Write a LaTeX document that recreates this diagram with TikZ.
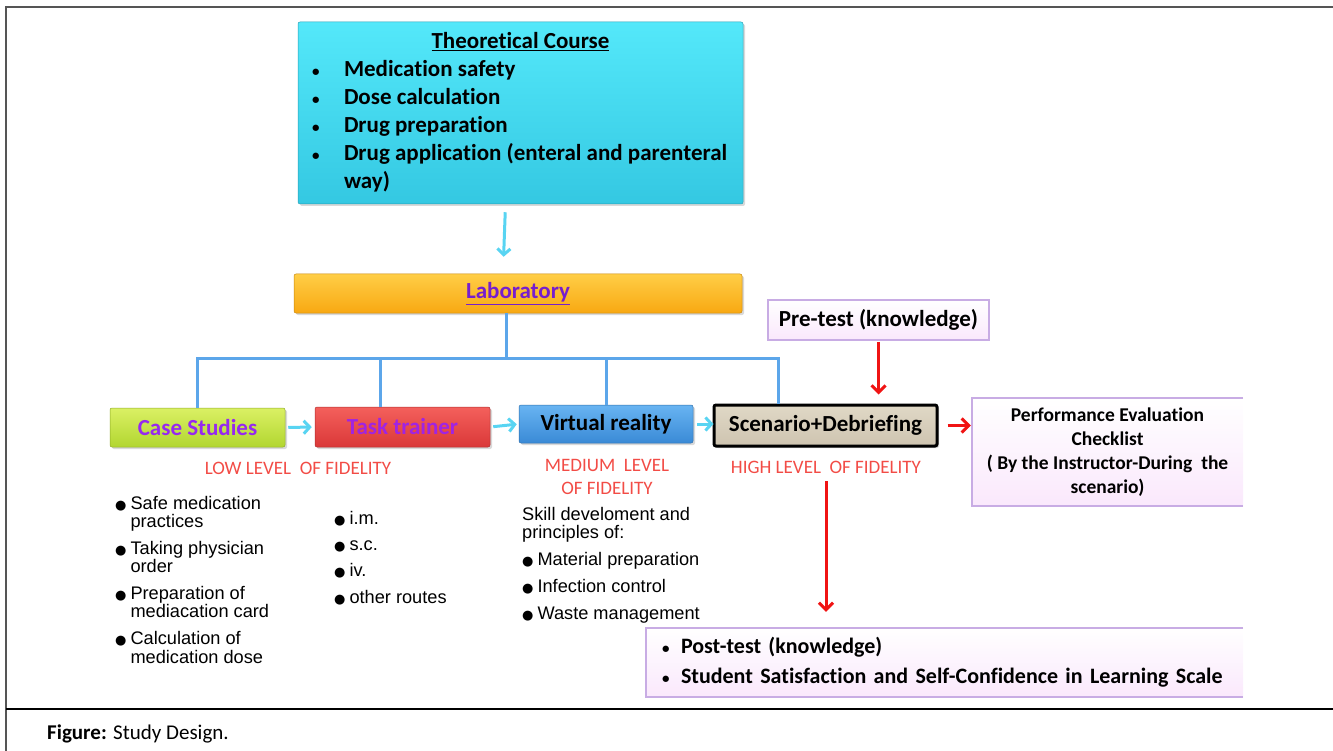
\documentclass[tikz,border=0pt]{standalone}
\usepackage{fontspec}
\setmainfont{Carlito}[Ligatures=NoCommon]
\newfontfamily\arialfont{Liberation Sans}
\newfontfamily\symfont{DejaVu Sans}
\usetikzlibrary{arrows.meta,shadows}

\definecolor{theotop}{RGB}{84,232,250}
\definecolor{theobot}{RGB}{52,200,226}
\definecolor{labtop}{RGB}{255,206,70}
\definecolor{labbot}{RGB}{248,168,18}
\definecolor{casetop}{RGB}{218,240,100}
\definecolor{casebot}{RGB}{178,214,48}
\definecolor{tasktop}{RGB}{244,96,92}
\definecolor{taskbot}{RGB}{218,56,56}
\definecolor{vrtop}{RGB}{104,180,242}
\definecolor{vrbot}{RGB}{58,138,214}
\definecolor{scentop}{RGB}{224,216,198}
\definecolor{scenmid}{RGB}{248,245,236}
\definecolor{scenbot}{RGB}{206,196,176}
\definecolor{lavline}{RGB}{200,172,228}
\definecolor{lavfill}{RGB}{250,232,252}
\definecolor{treeblue}{RGB}{92,166,234}
\definecolor{arrowcyan}{RGB}{88,212,242}
\definecolor{arrowred}{RGB}{240,20,20}
\definecolor{fidred}{RGB}{242,76,70}
\definecolor{labpurple}{RGB}{118,30,206}
\definecolor{casepurple}{RGB}{150,40,240}
\definecolor{taskpurple}{RGB}{160,36,226}
\definecolor{framegray}{RGB}{85,85,85}

\newcommand{\bul}{{\symfont\fontsize{13}{13}\selectfont ●}}
\newcommand{\dotbul}{{\fontsize{15}{15}\selectfont\textbullet}}

\begin{document}
\begin{tikzpicture}[x=1pt,y=-1pt,
  basebox/.style={inner sep=0pt, font=\bfseries\fontsize{23}{26}\selectfont,
    drop shadow={shadow xshift=2pt,shadow yshift=-2pt,opacity=0.3}},
  stagebox/.style={basebox, draw=#1!80!black, line width=0.5pt, rounded corners=2pt},
  evalbox/.style={inner sep=0pt, top color=white, bottom color=lavfill},
  evalline/.style={draw=lavline, line width=1.5pt},
  treeline/.style={draw=treeblue, line width=3pt},
  flowarrow/.style={draw=arrowcyan, line width=3pt, -{Straight Barb[length=6pt,width=13pt]}},
  evalarrow/.style={draw=arrowred, line width=3pt, -{Straight Barb[length=7pt,width=14pt]}},
  fidelity/.style={text=fidred, font=\fontsize{19}{23}\selectfont, align=center, inner sep=0pt},
  listtext/.style={font=\arialfont\fontsize{18.2}{18}\selectfont, inner sep=0pt, anchor=base west}]

\useasboundingbox (0,0) rectangle (1333,751);

% frame and caption
\draw[framegray, line width=2.5pt] (1333,7) -- (6,7) -- (6,751);
\draw[black, line width=2.5pt] (6,709) -- (1333,709);
\node[anchor=base west, inner sep=0pt, font=\fontsize{21}{22}\selectfont] (caption) at (47,739) {\textbf{Figure:} Study Design.};

% theory and laboratory
\node[stagebox=theobot, top color=theotop, bottom color=theobot, minimum width=445pt, minimum height=182pt,
  font=\bfseries\fontsize{23}{28}\selectfont] (theory) at (520.5,113)
  {\begin{tabular}{@{}p{32pt}@{}p{385pt}@{}}
   \multicolumn{2}{@{}c@{}}{\underline{Theoretical Course}}\\
   \dotbul & Medication safety\\
   \dotbul & Dose calculation\\
   \dotbul & Drug preparation\\
   \dotbul & Drug application (enteral and parenteral\\
   & way)
   \end{tabular}};

\node[stagebox=labbot, top color=labtop, bottom color=labbot, minimum width=448pt, minimum height=39pt,
  text=labpurple] (lab) at (518,293.5) {\underline{Laboratory}};

\draw[flowarrow, shorten <=8pt, shorten >=17pt] ([xshift=-15pt]theory.south) -- ([xshift=-15pt]lab.north);

% stages
\node[stagebox=casebot, top color=casetop, bottom color=casebot, minimum width=175pt, minimum height=39pt,
  text=casepurple] (case) at (197.5,427.5) {Case Studies};
\node[stagebox=taskbot, top color=tasktop, bottom color=taskbot, minimum width=175pt, minimum height=40pt,
  text=taskpurple] (task) at (402.5,427) {Task trainer};
\node[stagebox=vrbot, top color=vrtop, bottom color=vrbot, minimum width=174pt, minimum height=38pt] (vr) at (606,424) {Virtual reality};
\node[basebox, draw=black, line width=3pt, rounded corners=2pt, top color=scentop, middle color=scenmid, bottom color=scenbot,
  minimum width=223pt, minimum height=41pt] (scen) at (825.5,425.5) {Scenario+Debriefing};

% tree from laboratory
\coordinate (bus) at (506,358);
\coordinate (taskin) at (380,407);
\coordinate (scenin) at (778,404);
\draw[treeline] (lab.south -| bus) -- (bus);
\draw[treeline] (case.north) |- (bus) -| (scenin);
\draw[treeline] (bus -| taskin) -- (taskin);
\draw[treeline] (bus -| vr.north) -- (vr.north);

\draw[flowarrow, shorten <=3pt, shorten >=3pt] (case.east) -- (task.west);
\draw[flowarrow, shorten <=3pt, shorten >=2pt] (task.east) -- (vr.west);
\draw[flowarrow, shorten <=4pt, shorten >=-1pt] (vr.east) -- (vr.east -| scen.west);

% evaluation
\node[evalbox, draw=lavline, line width=1.5pt, minimum width=221pt, minimum height=40pt,
  font=\bfseries\fontsize{23}{26}\selectfont] (pre) at (878.5,320) {Pre-test (knowledge)};
\node[evalbox, minimum width=271pt, minimum height=108pt, align=center,
  font=\bfseries\fontsize{19.5}{24}\selectfont] (perf) at (1107.5,452)
  {Performance Evaluation\\Checklist\\( By the Instructor-During\ \ the\\scenario)};
\draw[evalline] (perf.north east) -- (perf.north west) -- (perf.south west) -- (perf.south east);
\node[evalbox, minimum width=597pt, minimum height=69pt, text width=565pt, align=left,
  font=\bfseries\fontsize{22}{30}\selectfont] (post) at (944.5,662.5)
  {\begin{tabular}{@{}p{19pt}@{}l@{}}
   \dotbul & Post-test (knowledge)\\
   \dotbul & Student Satisfaction and Self-Confidence in Learning Scale
   \end{tabular}};
\draw[evalline] (post.north east) -- (post.north west) -- (post.south west) -- (post.south east);

\draw[evalarrow, shorten <=1pt, shorten >=9pt] (pre.south) -- (pre.south |- scen.north);
\draw[evalarrow, shorten <=9pt, shorten >=1pt] (scen.east) -- (scen.east -| perf.west);

% fidelity levels
\node[fidelity] (low) at (298,468) {LOW LEVEL\ \ OF FIDELITY};
\node[fidelity] (medium) at (607,476.5) {MEDIUM\ \ LEVEL\\OF FIDELITY};
\node[fidelity] (high) at (826,467) {HIGH LEVEL\ \ OF FIDELITY};
\draw[evalarrow, shorten <=8pt, shorten >=16pt] (high.south) -- (high.south |- post.north);

% lists
\node[listtext] (caselist) at (115,509)
  {\begin{tabular}[t]{@{}l@{\hspace{4pt}}l@{}}
   \bul & Safe medication\\ & practices\\[8pt]
   \bul & Taking physician\\ & order\\[8pt]
   \bul & Preparation of\\ & mediacation card\\[8pt]
   \bul & Calculation of\\ & medication dose
   \end{tabular}};
\node[listtext] (routelist) at (334,524)
  {\begin{tabular}[t]{@{}l@{\hspace{4pt}}l@{}}
   \bul & i.m.\\[8pt]
   \bul & s.c.\\[8pt]
   \bul & iv.\\[8pt]
   \bul & other routes
   \end{tabular}};
\node[listtext] (skilllist) at (522,520)
  {\begin{tabular}[t]{@{}l@{\hspace{4pt}}l@{}}
   \multicolumn{2}{@{}l@{}}{Skill develoment and}\\
   \multicolumn{2}{@{}l@{}}{principles of:}\\[8.5pt]
   \bul & Material preparation\\[8.5pt]
   \bul & Infection control\\[8.5pt]
   \bul & Waste management
   \end{tabular}};

\end{tikzpicture}
\end{document}
